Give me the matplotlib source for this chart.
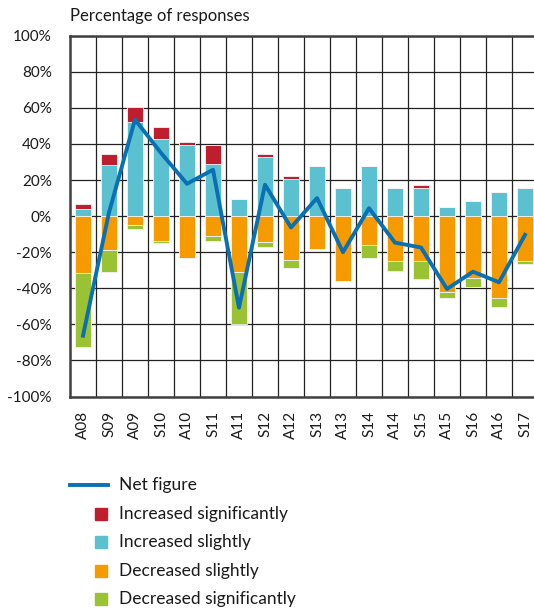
import numpy as np
import matplotlib
matplotlib.use("Agg")
import matplotlib.pyplot as plt
from matplotlib.lines import Line2D
from matplotlib.patches import Rectangle

plt.rcParams['font.family'] = ['Lato', 'DejaVu Sans']

periods = ['A08', 'S09', 'A09', 'S10', 'A10', 'S11', 'A11', 'S12', 'A12',
           'S13', 'A13', 'S14', 'A14', 'S15', 'A15', 'S16', 'A16', 'S17']
inc_sig = [2.8, 6.5, 8.3, 6.6, 1.5, 10.5, 0, 1.3, 1.7,
           0, 0, 0, 0, 1.5, 0, 0, 0, 0]
inc_sl = [3.9, 28.1, 52.4, 42.8, 39.4, 28.7, 9.4, 32.9, 20.7,
          27.8, 15.7, 27.6, 15.7, 15.7, 4.8, 8.5, 13.3, 15.7]
dec_sl = [31.7, 18.9, 5.0, 13.6, 23.2, 10.8, 30.9, 14.4, 24.1,
          18.2, 35.9, 15.9, 25.0, 25.0, 42.1, 34.3, 45.4, 25.0]
dec_sig = [40.9, 11.9, 2.4, 1.4, 0, 2.9, 28.9, 2.8, 4.5,
           0, 0, 7.4, 5.6, 10.0, 3.5, 5.0, 5.0, 1.3]
net = [-66.3, 2.0, 53.5, 35.0, 17.9, 25.7, -50.8, 17.4, -6.3,
       10.0, -20.0, 4.4, -14.7, -17.4, -40.4, -30.8, -36.7, -10.4]

c_red = '#BE1E2D'
c_cyan = '#5BC0D0'
c_orange = '#F59B00'
c_green = '#9BC232'
c_blue = '#0A70B4'

W, H = 534, 611
fig = plt.figure(figsize=(W / 100, H / 100), dpi=100)
ax = fig.add_axes([70 / W, 1 - 396.5 / H, 468 / W, (396.5 - 35.7) / H])

x = np.arange(len(periods))
bw = 0.615
ec = dict(edgecolor='#f4f4f4', linewidth=0.6)
ax.bar(x, inc_sl, bw, color=c_cyan, **ec)
ax.bar(x, inc_sig, bw, bottom=inc_sl, color=c_red, **ec)
ax.bar(x, [-v for v in dec_sl], bw, color=c_orange, **ec)
ax.bar(x, [-v for v in dec_sig], bw, bottom=[-v for v in dec_sl], color=c_green, **ec)
ax.plot(x, net, color=c_blue, lw=2.8, zorder=5)

ax.set_xlim(-0.5, len(periods) - 0.5)
ax.set_ylim(-100, 100)
ax.set_yticks(np.arange(-100, 101, 20))
ax.set_yticklabels([f'{v}%' for v in range(-100, 101, 20)])
ax.set_xticks(x)
ax.set_xticklabels(periods, rotation=90)
ax.set_xticks(x[:-1] + 0.5, minor=True)
ax.tick_params(which='both', length=0, labelsize=11, colors='#1a1a1a')
ax.tick_params(axis='x', pad=10)
ax.tick_params(axis='y', pad=13)
ax.set_axisbelow(True)
ax.grid(axis='y', which='major', color='#222222', lw=0.9)
ax.grid(axis='x', which='minor', color='#222222', lw=0.9)
for s in ax.spines.values():
    s.set_color('#404040')
    s.set_linewidth(1.8)

fig.text(70 / W, 1 - 16 / H, 'Percentage of responses', fontsize=12,
         ha='left', va='center', color='#1a1a1a')

# legend drawn by hand
ys = [485, 514, 542, 571, 599]
labels = ['Net figure', 'Increased significantly', 'Increased slightly',
          'Decreased slightly', 'Decreased significantly']
fig.add_artist(Line2D([70 / W, 108 / W], [1 - ys[0] / H] * 2, color=c_blue, lw=2.8))
for y, col in zip(ys[1:], [c_red, c_cyan, c_orange, c_green]):
    fig.add_artist(Rectangle((95 / W, 1 - (y + 6) / H), 12 / W, 12 / H,
                             color=col, transform=fig.transFigure))
for y, lab in zip(ys, labels):
    fig.text(119 / W, 1 - y / H, lab, fontsize=12.5, ha='left', va='center',
             color='#1a1a1a')

fig.savefig('out.png', dpi=100)
